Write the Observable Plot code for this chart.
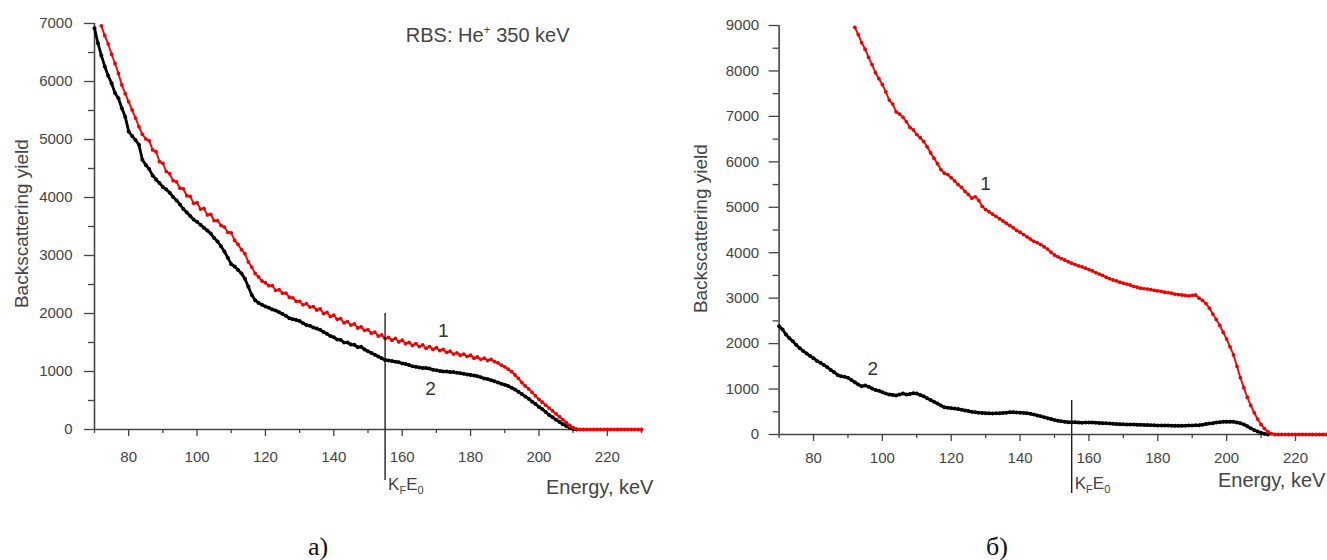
<!DOCTYPE html>
<html>
<head>
<meta charset="utf-8">
<script src="https://cdn.jsdelivr.net/npm/d3@7"></script>
<script src="https://cdn.jsdelivr.net/npm/@observablehq/plot@0.6"></script>
<style>
  html, body { margin: 0; padding: 0; background: #fff; }
  #wrap { position: relative; width: 1327px; height: 560px; overflow: hidden; background: #fff; }
  .panel { position: absolute; top: 0; }
  .cap { position: absolute; top: 534px; font-family: "Liberation Serif", "Times New Roman", serif; font-size: 26px; line-height: 26px; color: #111; }
</style>
</head>
<body>
<div id="wrap">
  <div id="pa" class="panel" style="left:0px"></div>
  <div id="pb" class="panel" style="left:680px"></div>
  <div class="cap" style="left:308px">а)</div>
  <div class="cap" style="left:986px">б)</div>
</div>
<script>
// ---------- data (panel а) ----------
const aRedStart = 72;   // first energy channel (keV), 1 keV step
const aRed = [
  6960,6790,6650,6470,6310,6140,5940,5790,5650,5510,
  5370,5220,5090,5010,4980,4820,4790,4620,4590,4450,
  4410,4290,4270,4160,4150,4030,4020,3900,3910,3800,
  3810,3700,3710,3600,3600,3520,3490,3400,3390,3260,
  3190,3100,3030,2890,2800,2690,2630,2560,2530,2480,
  2480,2400,2410,2350,2350,2280,2270,2210,2210,2150,
  2170,2110,2120,2060,2080,2000,2020,1950,1970,1900,
  1910,1840,1860,1800,1820,1750,1770,1710,1720,1660,
  1680,1610,1630,1570,1590,1540,1570,1510,1540,1480,
  1500,1450,1480,1430,1460,1400,1430,1380,1410,1360,
  1380,1330,1350,1300,1320,1280,1300,1260,1280,1230,
  1250,1210,1230,1190,1210,1170,1150,1110,1080,1040,
  1000,940,880,810,750,700,640,580,520,470,
  420,370,320,270,220,170,120,70,30,8,
  0,0,0,0,0,0,0,0,0,0,0,0,0,0,0,0,0,0,0
];
const aBlackStart = 70;
const aBlack = [
  6920,6660,6450,6260,6100,5970,5800,5710,5540,5390,
  5140,5060,4990,4910,4650,4560,4490,4380,4310,4250,
  4180,4140,4080,4010,3950,3880,3800,3740,3680,3620,
  3580,3530,3480,3430,3380,3300,3240,3160,3070,2960,
  2850,2810,2750,2690,2600,2460,2320,2230,2180,2150,
  2120,2100,2070,2050,2020,1990,1960,1920,1900,1890,
  1870,1830,1800,1790,1760,1740,1720,1680,1650,1610,
  1590,1550,1545,1500,1500,1465,1460,1420,1425,1380,
  1350,1320,1290,1260,1230,1200,1190,1180,1170,1160,
  1140,1130,1110,1090,1080,1070,1060,1060,1050,1030,
  1020,1010,1000,1000,990,990,980,970,960,950,
  940,930,920,900,880,870,850,830,810,790,
  770,750,720,690,650,610,570,530,480,440,
  390,350,300,250,210,170,130,90,60,30,
  10,0
];
// ---------- data (panel б) ----------
const bRedStart = 92;
const bRed = [
  8960,8800,8620,8480,8300,8140,7960,7830,7700,7540,
  7360,7270,7100,7050,6980,6880,6760,6700,6600,6530,
  6450,6330,6200,6080,5960,5830,5750,5720,5650,5580,
  5500,5440,5350,5280,5200,5230,5150,5020,4950,4900,
  4850,4800,4750,4700,4650,4600,4550,4490,4450,4400,
  4350,4300,4250,4220,4180,4130,4080,4010,3950,3910,
  3870,3840,3800,3770,3740,3710,3690,3660,3630,3600,
  3560,3530,3500,3460,3430,3400,3380,3350,3330,3310,
  3290,3260,3240,3220,3210,3200,3190,3170,3160,3150,
  3130,3120,3110,3090,3080,3070,3060,3050,3060,3070,
  3000,2950,2880,2780,2650,2530,2400,2250,2100,1930,
  1750,1500,1250,1030,820,640,480,340,220,130,
  60,20,0,0,0,0,0,0,0,0,
  0,0,0,0,0,0,0,0,0
];
const bBlackStart = 70;
const bBlack = [
  2380,2310,2200,2120,2050,1970,1900,1840,1780,1730,
  1680,1620,1580,1530,1480,1420,1370,1310,1280,1270,
  1250,1200,1150,1100,1060,1080,1050,1010,980,960,
  930,900,880,870,860,880,900,880,890,910,
  900,870,840,800,760,720,680,640,600,590,
  580,570,560,545,530,515,500,490,480,475,
  470,465,460,465,470,475,480,490,490,485,
  480,475,470,455,440,420,400,380,360,340,
  320,305,290,280,270,270,270,265,260,262,
  265,262,260,255,250,245,240,235,230,228,
  225,222,220,218,215,212,210,208,205,202,
  200,200,200,198,195,192,190,192,195,198,
  200,202,205,215,230,240,250,262,270,278,
  280,282,278,265,250,220,180,140,100,65,
  40,15,0
];
// ---------- ticks & labels ----------
const xMajor = [80, 100, 120, 140, 160, 180, 200, 220];
const xMinor = [70, 90, 110, 130, 150, 170, 190, 210, 230];
const aYMajor = [0, 1000, 2000, 3000, 4000, 5000, 6000, 7000];
const aYMinor = [500, 1500, 2500, 3500, 4500, 5500, 6500];
const bYMajor = [0, 1000, 2000, 3000, 4000, 5000, 6000, 7000, 8000, 9000];
const bYMinor = [500, 1500, 2500, 3500, 4500, 5500, 6500, 7500, 8500];
const kfE0 = 155;           // K_F·E_0 marker energy
const xTitle = "Energy, keV";
const yTitle = "Backscattering yield";
const aNotes = [{x: 172, y: 1700, t: "1"}, {x: 168.3, y: 700, t: "2"}];
const bNotes = [{x: 130, y: 5520, t: "1"}, {x: 97.2, y: 1450, t: "2"}];

function toPts(start, arr) { return arr.map((v, i) => ({e: start + i, v})); }

const FONT = '"Liberation Sans", Arial, Helvetica, sans-serif';
const AX = "#444";

function panel(o) {
  const red = toPts(o.redStart, o.red), black = toPts(o.blackStart, o.black);
  return Plot.plot({
    width: o.width, height: 520,
    marginLeft: o.ml, marginRight: o.mr, marginTop: o.mt, marginBottom: o.mb,
    x: {domain: o.xDomain},
    y: {domain: o.yDomain},
    style: {fontFamily: FONT, fontSize: "15px", color: AX, background: "transparent", overflow: "visible"},
    marks: [
      Plot.axisY({ticks: o.yMajor, tickSize: 10, tickPadding: o.yPad, label: null, tickFormat: d3.format("d"), strokeWidth: 1.3}),
      Plot.axisY({ticks: o.yMinor, tickSize: 6, text: null, label: null, strokeWidth: 1.3}),
      Plot.axisX({ticks: xMajor, tickSize: 7, tickPadding: o.xPad, label: null, strokeWidth: 1.3}),
      Plot.axisX({ticks: xMinor.filter(d => d <= o.xDomain[1]), tickSize: 4, text: null, label: null, strokeWidth: 1.3}),
      Plot.ruleX([o.xDomain[0]], {stroke: AX, strokeWidth: 1.6}),
      Plot.ruleY([0], {stroke: AX, strokeWidth: 1.6}),
      Plot.line(black, {x: "e", y: "v", stroke: "#000", strokeWidth: 2.8}),
      Plot.dot(black, {x: "e", y: "v", r: 2, fill: "#000", stroke: null}),
      Plot.line(red, {x: "e", y: "v", stroke: "#f00", strokeWidth: 1.9}),
      Plot.dot(red, {x: "e", y: "v", r: 1.9, fill: "#e00", stroke: null}),
      Plot.ruleX([{x: kfE0, y1: o.kTop, y2: o.kBot}], {x: "x", y1: "y1", y2: "y2", stroke: "#111", strokeWidth: 1.3}),
      Plot.text([{x: kfE0, y: o.kLabelY, t: "KFE0"}], {x: "x", y: "y", text: "t", textAnchor: "start", dx: 3, fontSize: 17, fill: "#444"}),
      Plot.text([{x: o.xTitleX, y: o.xTitleY, t: xTitle}], {x: "x", y: "y", text: "t", textAnchor: "end", fontSize: 20, fill: "#444"}),
      Plot.text([{x: o.yTitleX, y: o.yTitleY, t: yTitle}], {x: "x", y: "y", text: "t", rotate: -90, fontSize: 19, fill: "#444"}),
      Plot.text(o.notes, {x: "x", y: "y", text: "t", fontSize: 19, fill: "#333"}),
      ...(o.title ? [Plot.text([o.title], {x: "x", y: "y", text: "t", fontSize: 20, fill: "#444"})] : [])
    ]
  });
}

function fixTexts(svg) {
  d3.select(svg).selectAll("text").each(function () {
    const t = d3.select(this);
    if (this.textContent === "KFE0") {
      t.text(null);
      t.append("tspan").text("K");
      t.append("tspan").attr("font-size", 11).attr("dy", 4).text("F");
      t.append("tspan").attr("dy", -4).text("E");
      t.append("tspan").attr("font-size", 11).attr("dy", 4).text("0");
    } else if (this.textContent === "RBS: He+ 350 keV") {
      t.text(null);
      t.append("tspan").text("RBS: He");
      t.append("tspan").attr("font-size", 12).attr("dy", -8).text("+");
      t.append("tspan").attr("dy", 8).text(" 350 keV");
    }
  });
}

const svgA = panel({
  width: 660, ml: 94, mr: 19, mt: 23, mb: 91,
  xDomain: [70, 230], yDomain: [0, 7000],
  yMajor: aYMajor, yMinor: aYMinor, yPad: 12, xPad: 15,
  red: aRed, redStart: aRedStart, black: aBlack, blackStart: aBlackStart,
  kTop: 2000, kBot: -880, kLabelY: -950,
  xTitleX: 233.5, xTitleY: -1000,
  yTitleX: 48.7, yTitleY: 3550,
  notes: aNotes,
  title: {x: 185, y: 6790, t: "RBS: He+ 350 keV"}
});
const svgB = panel({
  width: 647, ml: 98.6, mr: 0, mt: 25, mb: 86,
  xDomain: [70, 229.3], yDomain: [0, 9000],
  yMajor: bYMajor, yMinor: bYMinor, yPad: 10, xPad: 11,
  red: bRed, redStart: bRedStart, black: bBlack, blackStart: bBlackStart,
  kTop: 750, kBot: -1300, kLabelY: -1080,
  xTitleX: 228.7, xTitleY: -1012,
  yTitleX: 47.2, yTitleY: 4530,
  notes: bNotes,
  title: null
});
fixTexts(svgA); fixTexts(svgB);
document.getElementById("pa").appendChild(svgA);
document.getElementById("pb").appendChild(svgB);
</script>
</body>
</html>
